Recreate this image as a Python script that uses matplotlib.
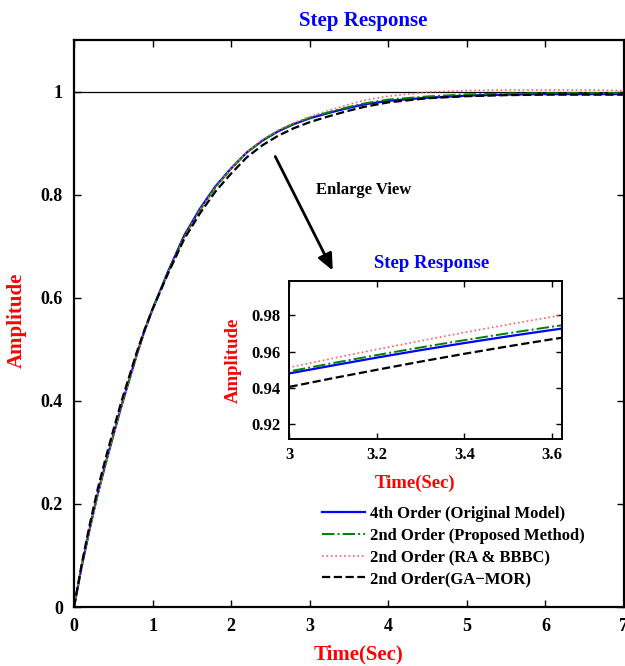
import matplotlib
matplotlib.use("Agg")
import matplotlib.pyplot as plt

plt.rcParams['font.family'] = ['Liberation Serif', 'DejaVu Serif']
plt.rcParams['font.weight'] = 'bold'

# ---- data ----
t = [0, 0.1, 0.2, 0.3, 0.4, 0.5, 0.6, 0.7, 0.8, 0.9, 1.0, 1.2, 1.4, 1.6, 1.8,
     2.0, 2.2, 2.4, 2.6, 2.8, 3.0, 3.1, 3.2, 3.3, 3.4, 3.5, 3.6, 3.7,
     4.0, 4.5, 5.0, 5.5, 6.0, 6.5, 7.0]

y_4th = [0, 0.080, 0.152, 0.218, 0.277, 0.333, 0.388, 0.439, 0.490, 0.537, 0.578,
         0.652, 0.720, 0.772, 0.816, 0.851, 0.882, 0.905, 0.923, 0.937,
         0.9480, 0.9524, 0.9567, 0.9608, 0.9647, 0.9684, 0.9719, 0.9752,
         0.982, 0.988, 0.992, 0.994, 0.995, 0.995, 0.995]

y_prop = [0, 0.080, 0.152, 0.218, 0.277, 0.333, 0.388, 0.439, 0.490, 0.536, 0.577,
          0.650, 0.717, 0.769, 0.814, 0.850, 0.882, 0.9055, 0.924, 0.938,
          0.9491, 0.9537, 0.9581, 0.9623, 0.9663, 0.9701, 0.9737, 0.9771,
          0.9845, 0.9905, 0.9945, 0.9962, 0.997, 0.997, 0.997]

y_rabbbc = [0, 0.079, 0.151, 0.217, 0.276, 0.332, 0.387, 0.438, 0.489, 0.535, 0.576,
            0.650, 0.717, 0.769, 0.814, 0.850, 0.883, 0.907, 0.925, 0.9395,
            0.9513, 0.9563, 0.9612, 0.9659, 0.9705, 0.9749, 0.9791, 0.9831,
            0.991, 0.999, 1.002, 1.003, 1.003, 1.003, 1.002]

y_gamor = [0, 0.085, 0.160, 0.228, 0.287, 0.343, 0.397, 0.446, 0.495, 0.539, 0.578,
           0.648, 0.713, 0.763, 0.806, 0.841, 0.8725, 0.896, 0.9145, 0.929,
           0.9406, 0.9454, 0.9500, 0.9545, 0.9588, 0.9629, 0.9668, 0.9705,
           0.979, 0.987, 0.991, 0.993, 0.994, 0.994, 0.994]

labels = ['4th Order (Original Model)', '2nd Order (Proposed Method)',
          '2nd Order (RA & BBBC)', '2nd Order(GA\u2212MOR)']

main_xticks = [0, 1, 2, 3, 4, 5, 6, 7]
main_yticks = [0, 0.2, 0.4, 0.6, 0.8, 1]
inset_xticks = [3, 3.2, 3.4, 3.6]
inset_yticks = [0.92, 0.94, 0.96, 0.98]

styles = [dict(color='#0000ff', ls='-', lw=1.6),
          dict(color='#008000', ls='-.', lw=1.4),
          dict(color='#ff6060', ls=':', lw=1.2),
          dict(color='black', ls='--', lw=1.6)]
series = [y_4th, y_prop, y_rabbbc, y_gamor]

fig = plt.figure(figsize=(6.25, 6.66), dpi=100)
ax = fig.add_axes([74/625, 1-607/666, 550/625, 567/666])

ax.axhline(1, color='black', lw=0.9)
handles = []
for y, st, lab in zip(series, styles, labels):
    h, = ax.plot(t, y, label=lab, **st)
    handles.append(h)

ax.set_xlim(0, 7)
ax.set_ylim(0, 1.1)
ax.set_xticks(main_xticks)
ax.set_yticks(main_yticks)
ax.set_xticklabels([f'{v:g}' for v in main_xticks])
ax.set_yticklabels([f'{v:g}' for v in main_yticks])
ax.tick_params(direction='in', length=5, width=1, top=True, right=True,
               labelsize=13, pad=8)
for s in ax.spines.values():
    s.set_linewidth(1.6)

fig.text(363/625, 1-21/666, 'Step Response', color='#0000ff', fontsize=15,
         fontweight='bold', ha='center', va='center')
fig.text(359/625, 1-654/666, 'Time(Sec)', color='red', fontsize=15,
         fontweight='bold', ha='center', va='center')
fig.text(17/625, 1-320/666, 'Amplitude', color='red', fontsize=15,
         fontweight='bold', ha='center', va='center', rotation=90)

leg = ax.legend(handles=handles, loc='upper left', frameon=False,
                bbox_to_anchor=((322-74)/550, (607-506)/567),
                prop=dict(size=12, weight='bold'), handlelength=2.55,
                handletextpad=0.3, labelspacing=0.34, borderaxespad=0,
                borderpad=0)

# arrow + text
ax.annotate('', xy=(334, 666-273), xycoords='figure pixels',
            xytext=(274, 666-154), textcoords='figure pixels',
            arrowprops=dict(arrowstyle='-|>,head_length=1.0,head_width=0.45',
                            color='black', lw=2))
fig.text(364/625, 1-190/666, 'Enlarge View', color='black', fontsize=12,
         fontweight='bold', ha='center', va='center')

# inset
ax2 = fig.add_axes([289/625, 1-439/666, 273/625, 158/666])
for y, st in zip(series, styles):
    ax2.plot(t, y, **st)
ax2.set_xlim(3, 3.623)
ax2.set_ylim(0.912, 0.9988)
ax2.set_xticks(inset_xticks)
ax2.set_yticks(inset_yticks)
ax2.set_xticklabels([f'{v:g}' for v in inset_xticks])
ax2.set_yticklabels([f'{v:g}' for v in inset_yticks])
ax2.tick_params(direction='in', length=4, width=1, top=True, right=True,
                labelsize=12, pad=6)
for s in ax2.spines.values():
    s.set_linewidth(1.4)
fig.text(432/625, 1-263/666, 'Step Response', color='#0000ff', fontsize=13.5,
         fontweight='bold', ha='center', va='center')
fig.text(415/625, 1-483/666, 'Time(Sec)', color='red', fontsize=13.5,
         fontweight='bold', ha='center', va='center')
fig.text(233/625, 1-360/666, 'Amplitude', color='red', fontsize=13.5,
         fontweight='bold', ha='center', va='center', rotation=90)

fig.savefig('out.png', dpi=100)
